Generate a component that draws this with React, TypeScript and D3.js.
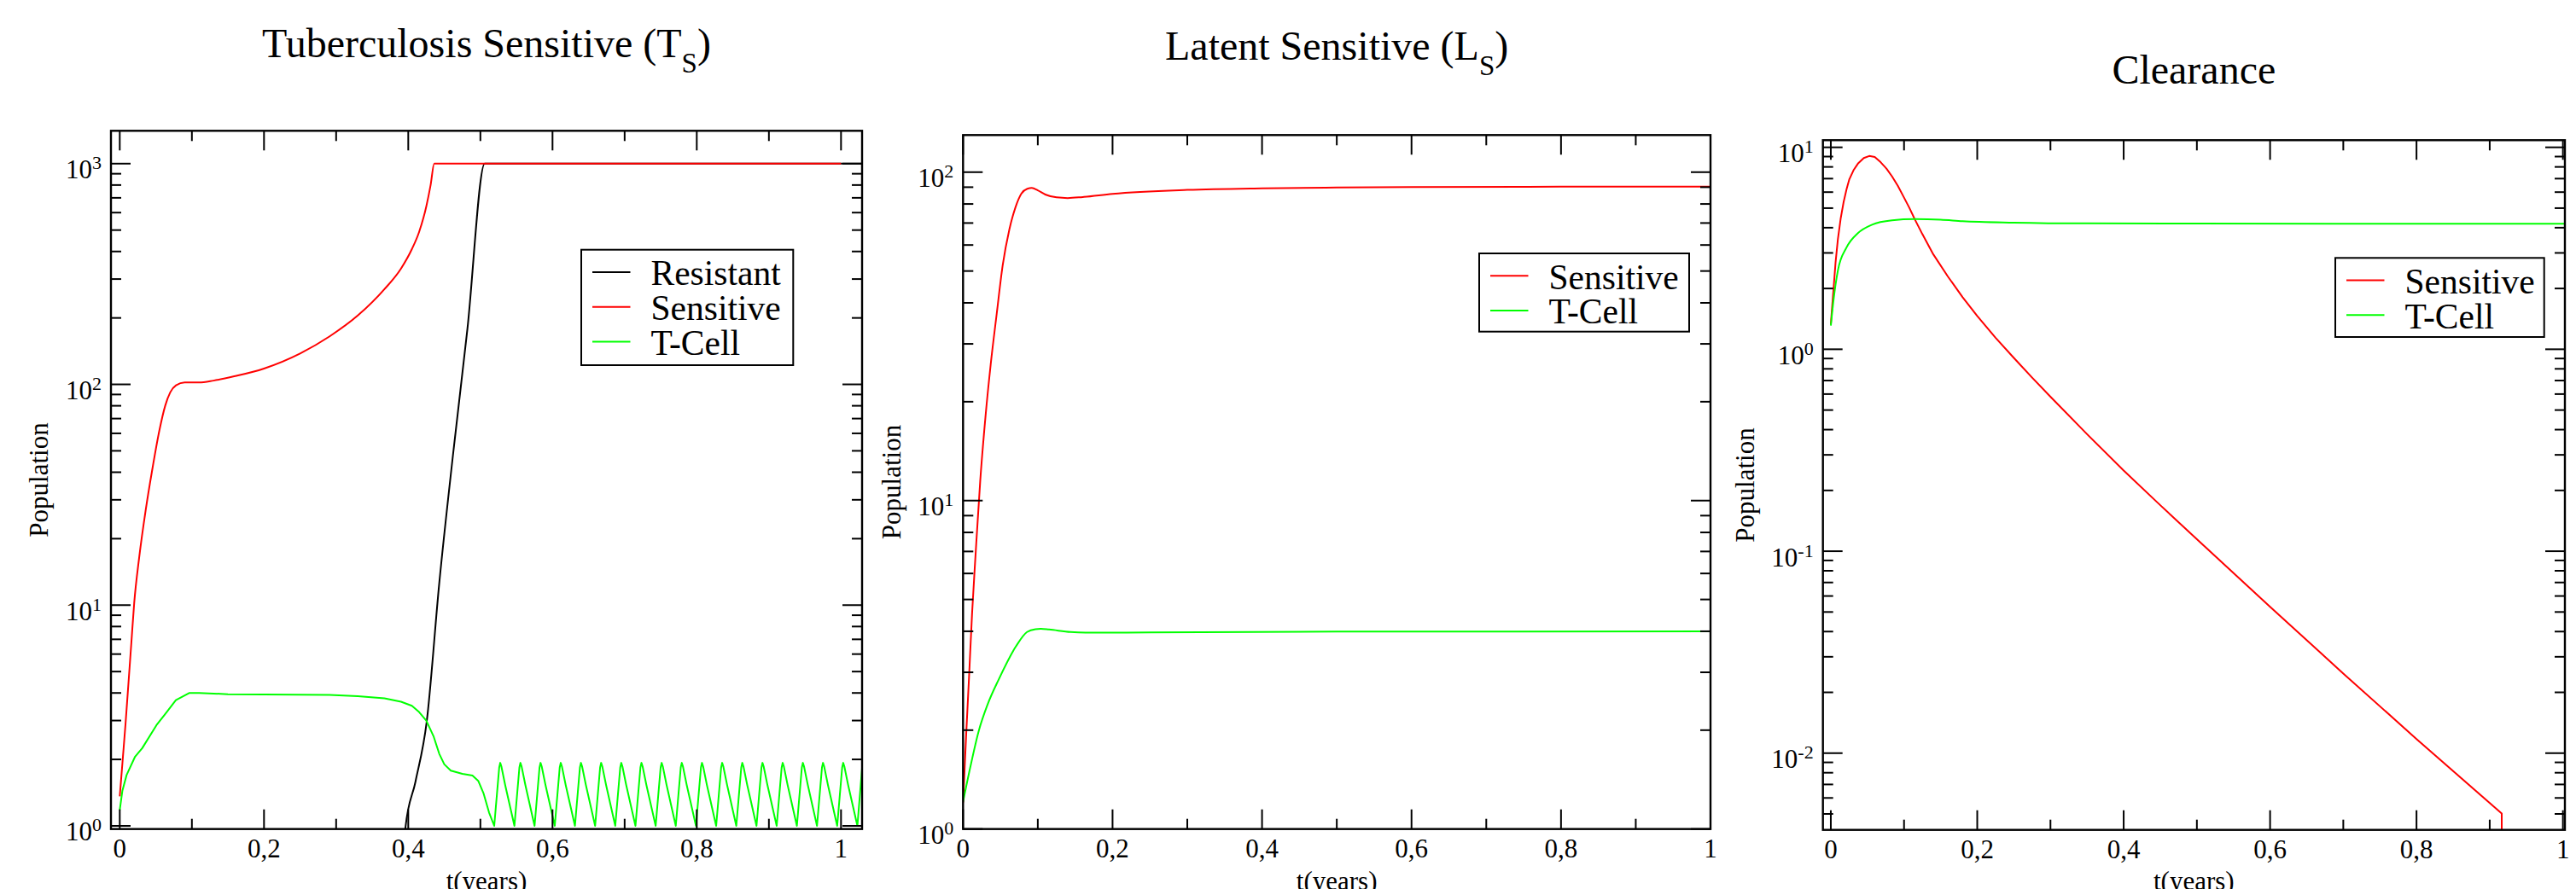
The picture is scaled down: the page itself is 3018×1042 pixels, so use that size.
import React from 'react';
import * as d3 from 'd3';

// ---------------- Shared axis values ----------------
const xMajorTicks = [0, 0.2, 0.4, 0.6, 0.8, 1];
const xMajorLabels = ['0', '0,2', '0,4', '0,6', '0,8', '1'];
const xMinorTicks = [0.1, 0.3, 0.5, 0.7, 0.9];
const xAxisTitle = 't(years)';
const yAxisTitle = 'Population';

// ---------------- Panel 1: Tuberculosis Sensitive ----------------
const tbResistantT = [0.3955, 0.396, 0.41, 0.4255, 0.443, 0.462, 0.482, 0.506, 0.52, 0.75, 1.0292];
const tbResistantV = [0.9, 0.977, 1.585, 2.95, 12.6, 47.9, 178, 1000, 1000, 1000, 1000];

const tbSensitiveT = [0, 0.004, 0.008, 0.012, 0.016, 0.02, 0.027, 0.036, 0.045, 0.055, 0.063, 0.07, 0.078, 0.09, 0.11, 0.13, 0.16, 0.2, 0.25, 0.291, 0.33, 0.367, 0.39, 0.405, 0.415, 0.425, 0.431, 0.436, 0.44, 0.6, 0.8, 1.0];
const tbSensitiveV = [1.36, 1.98, 2.9, 4.4, 6.7, 10.2, 16.5, 27, 41, 62, 80, 92, 99, 102, 102, 104, 109, 118, 138, 165, 205, 270, 335, 410, 490, 640, 800, 1000, 1000, 1000, 1000, 1000];

// T-cell before the oscillating phase
const tbTcellRiseT = [0, 0.0036, 0.0095, 0.0213, 0.0312, 0.0509, 0.0626, 0.0778, 0.0967, 0.11, 0.15, 0.2, 0.291, 0.33, 0.367, 0.39, 0.405, 0.415, 0.425, 0.435, 0.443, 0.45, 0.459, 0.475, 0.489, 0.497, 0.5045, 0.512, 0.5192];
const tbTcellRiseV = [1.18, 1.44, 1.70, 2.06, 2.25, 2.86, 3.2, 3.71, 4.0, 4.0, 3.95, 3.94, 3.92, 3.87, 3.78, 3.65, 3.5, 3.28, 3.0, 2.55, 2.12, 1.9, 1.78, 1.72, 1.69, 1.6, 1.4, 1.15, 1.0];
// T-cell oscillating phase (pre-peak, peak, post-peak, falling, trough) per cycle
const tbTcellOscT = [
  0.5261, 0.5275, 0.5291, 0.5344, 0.5472,
  0.5541, 0.5555, 0.5571, 0.5624, 0.5751,
  0.5820, 0.5834, 0.5850, 0.5903, 0.6031,
  0.6100, 0.6114, 0.6130, 0.6183, 0.6311,
  0.6380, 0.6394, 0.6410, 0.6463, 0.6591,
  0.6660, 0.6674, 0.6690, 0.6743, 0.6870,
  0.6939, 0.6953, 0.6969, 0.7022, 0.7150,
  0.7219, 0.7233, 0.7249, 0.7302, 0.7430,
  0.7499, 0.7513, 0.7529, 0.7582, 0.7709,
  0.7778, 0.7792, 0.7808, 0.7861, 0.7989,
  0.8058, 0.8072, 0.8088, 0.8141, 0.8269,
  0.8338, 0.8352, 0.8368, 0.8421, 0.8548,
  0.8617, 0.8631, 0.8647, 0.8700, 0.8828,
  0.8897, 0.8911, 0.8927, 0.8980, 0.9108,
  0.9177, 0.9191, 0.9207, 0.9260, 0.9388,
  0.9457, 0.9471, 0.9487, 0.9540, 0.9667,
  0.9736, 0.9750, 0.9766, 0.9819, 0.9947,
  1.0016, 1.0030, 1.0046, 1.0099, 1.0227,
  1.0292];
const tbTcellOscV = [
  1.84, 1.93, 1.86, 1.53, 1.0,
  1.84, 1.93, 1.86, 1.53, 1.0,
  1.84, 1.93, 1.86, 1.53, 1.0,
  1.84, 1.93, 1.86, 1.53, 1.0,
  1.84, 1.93, 1.86, 1.53, 1.0,
  1.84, 1.93, 1.86, 1.53, 1.0,
  1.84, 1.93, 1.86, 1.53, 1.0,
  1.84, 1.93, 1.86, 1.53, 1.0,
  1.84, 1.93, 1.86, 1.53, 1.0,
  1.84, 1.93, 1.86, 1.53, 1.0,
  1.84, 1.93, 1.86, 1.53, 1.0,
  1.84, 1.93, 1.86, 1.53, 1.0,
  1.84, 1.93, 1.86, 1.53, 1.0,
  1.84, 1.93, 1.86, 1.53, 1.0,
  1.84, 1.93, 1.86, 1.53, 1.0,
  1.84, 1.93, 1.86, 1.53, 1.0,
  1.84, 1.93, 1.86, 1.53, 1.0,
  1.84, 1.93, 1.86, 1.53, 1.0,
  1.83];

// ---------------- Panel 2: Latent Sensitive ----------------
const latSensitiveT = [0, 0.004, 0.008, 0.012, 0.017, 0.023, 0.03, 0.037, 0.045, 0.053, 0.062, 0.07, 0.078, 0.086, 0.092, 0.1, 0.11, 0.125, 0.14, 0.16, 0.2, 0.3, 0.4, 0.5, 0.6, 0.8, 1.0];
const latSensitiveV = [1.2, 1.9, 2.9, 4.5, 7, 11.5, 18, 26, 37, 52, 67, 78, 86, 89, 89.5, 88, 85.5, 83.8, 83.4, 84, 85.9, 88.3, 89.3, 89.8, 90.1, 90.3, 90.4];

const latTcellT = [0, 0.0096, 0.021, 0.033, 0.0476, 0.0708, 0.0856, 0.097, 0.104, 0.115, 0.144, 0.173, 0.25, 0.5, 1.0];
const latTcellV = [1.21, 1.54, 1.99, 2.4, 2.85, 3.6, 3.98, 4.06, 4.07, 4.05, 3.98, 3.96, 3.97, 3.99, 4.0];

// ---------------- Panel 3: Clearance ----------------
const clrSensitiveT = [0, 0.002, 0.0039, 0.0065, 0.0097, 0.0135, 0.0175, 0.0215, 0.0253, 0.031, 0.037, 0.045, 0.0525, 0.06, 0.068, 0.076, 0.0836, 0.0915, 0.0991, 0.107, 0.1146, 0.125, 0.14, 0.16, 0.18, 0.2, 0.225, 0.25, 0.275, 0.3, 0.35, 0.4, 0.45, 0.5, 0.6, 0.7, 0.8, 0.9164, 0.9165];
const clrSensitiveV = [1.33, 1.66, 2.03, 2.7, 3.52, 4.45, 5.36, 6.2, 6.95, 7.7, 8.3, 8.85, 9.06, 8.95, 8.44, 7.85, 7.18, 6.45, 5.72, 5.04, 4.41, 3.72, 2.95, 2.29, 1.81, 1.46, 1.14, 0.906, 0.724, 0.582, 0.38, 0.251, 0.169, 0.1146, 0.0531, 0.0248, 0.01175, 0.00503, 0.003];

const clrTcellT = [0, 0.0039, 0.0097, 0.0214, 0.037, 0.0563, 0.0836, 0.1146, 0.15, 0.18, 0.25, 0.35, 0.5, 0.75, 1.0027];
const clrTcellV = [1.31, 1.78, 2.46, 3.19, 3.76, 4.14, 4.35, 4.41, 4.38, 4.31, 4.24, 4.2, 4.19, 4.18, 4.18];

const RED = '#ff0000';
const GREEN = '#00ff00';
const BLACK = '#000000';
const FONT = '"Liberation Serif", "Times New Roman", serif';

type Series = { name: string; color: string; t: number[]; v: number[]; smooth: boolean };

const panels = [
  {
    id: 'p1', title: 'Tuberculosis Sensitive (T', sub: 'S', titleY: 66.5,
    left: 130, right: 1010, top: 153.3, bottom: 971.7,
    xDomain: [-0.0122, 1.0292], yDomain: [0.9676, 1408.6],
    popX: 56,
    legend: { x: 681, y: 292.7, w: 248.3, h: 135.3 },
    series: [
      { name: 'Resistant', color: BLACK, t: tbResistantT, v: tbResistantV, smooth: true },
      { name: 'Sensitive', color: RED, t: tbSensitiveT, v: tbSensitiveV, smooth: true },
      { name: 'T-Cell', color: GREEN, t: tbTcellRiseT.concat(tbTcellOscT), v: tbTcellRiseV.concat(tbTcellOscV), smooth: false },
    ] as Series[],
  },
  {
    id: 'p2', title: 'Latent Sensitive (L', sub: 'S', titleY: 70,
    left: 1128.3, right: 2004, top: 158.3, bottom: 971.7,
    xDomain: [0, 1], yDomain: [1, 129.7],
    popX: 1055,
    legend: { x: 1733, y: 297, w: 246, h: 91.7 },
    series: [
      { name: 'Sensitive', color: RED, t: latSensitiveT, v: latSensitiveV, smooth: true },
      { name: 'T-Cell', color: GREEN, t: latTcellT, v: latTcellV, smooth: true },
    ] as Series[],
  },
  {
    id: 'p3', title: 'Clearance', sub: '', titleY: 98.3,
    left: 2135.7, right: 3005, top: 164.3, bottom: 972.7,
    xDomain: [-0.0108, 1.0027], yDomain: [0.004169, 10.85],
    popX: 2055,
    legend: { x: 2736, y: 302.3, w: 244.7, h: 92.7 },
    series: [
      { name: 'Sensitive', color: RED, t: clrSensitiveT, v: clrSensitiveV, smooth: false },
      { name: 'T-Cell', color: GREEN, t: clrTcellT, v: clrTcellV, smooth: true },
    ] as Series[],
  },
];

function Panel({ cfg }: { cfg: typeof panels[number] }) {
  const x = d3.scaleLinear().domain(cfg.xDomain).range([cfg.left, cfg.right]);
  const y = d3.scaleLog().domain(cfg.yDomain).range([cfg.bottom, cfg.top]);
  const yTicks = y.ticks();
  const isMajor = (v: number) => Math.abs(Math.log10(v) - Math.round(Math.log10(v))) < 1e-6;
  const mkLine = (smooth: boolean) =>
    d3.line<[number, number]>().x(d => x(d[0])).y(d => y(d[1])).curve(smooth ? d3.curveMonotoneX : d3.curveLinear);
  const MAJ = 23, MIN = 12;
  const cx = (cfg.left + cfg.right) / 2;
  const cy = (cfg.top + cfg.bottom) / 2;
  const clipId = 'clip-' + cfg.id;
  const lg = cfg.legend;
  return (
    <g>
      <defs>
        <clipPath id={clipId}>
          <rect x={cfg.left} y={cfg.top} width={cfg.right - cfg.left} height={cfg.bottom - cfg.top} />
        </clipPath>
      </defs>
      {/* title */}
      <text x={cx} y={cfg.titleY} textAnchor="middle" fontSize={48} fontFamily={FONT}>
        {cfg.title}
        {cfg.sub ? <tspan fontSize={33} dy={18}>{cfg.sub}</tspan> : null}
        {cfg.sub ? <tspan fontSize={48} dy={-18}>)</tspan> : null}
      </text>
      {/* data */}
      <g clipPath={`url(#${clipId})`}>
        {cfg.series.map(s => (
          <path key={s.name} d={mkLine(s.smooth)(s.t.map((t, i) => [t, s.v[i]] as [number, number])) || ''}
            fill="none" stroke={s.color} strokeWidth={2} strokeLinejoin="round" />
        ))}
      </g>
      {/* y ticks */}
      {yTicks.map((v, i) => {
        const L = isMajor(v) ? MAJ : MIN;
        const yy = y(v);
        return (
          <g key={'y' + i}>
            <line x1={cfg.left} x2={cfg.left + L} y1={yy} y2={yy} stroke="#000" strokeWidth={2} />
            <line x1={cfg.right} x2={cfg.right - L} y1={yy} y2={yy} stroke="#000" strokeWidth={2} />
          </g>
        );
      })}
      {yTicks.filter(isMajor).map((v, i) => (
        <text key={'yl' + i} x={cfg.left - 11} y={y(v) + 17.5} textAnchor="end" fontSize={31} fontFamily={FONT}>
          10<tspan fontSize={22} dy={-11}>{String(Math.round(Math.log10(v)))}</tspan>
        </text>
      ))}
      {/* x ticks */}
      {xMajorTicks.map((t, i) => (
        <g key={'xM' + i}>
          <line x1={x(t)} x2={x(t)} y1={cfg.bottom} y2={cfg.bottom - MAJ} stroke="#000" strokeWidth={2} />
          <line x1={x(t)} x2={x(t)} y1={cfg.top} y2={cfg.top + MAJ} stroke="#000" strokeWidth={2} />
          <text x={x(t)} y={cfg.bottom + 33} textAnchor="middle" fontSize={31} fontFamily={FONT}>{xMajorLabels[i]}</text>
        </g>
      ))}
      {xMinorTicks.map((t, i) => (
        <g key={'xm' + i}>
          <line x1={x(t)} x2={x(t)} y1={cfg.bottom} y2={cfg.bottom - MIN} stroke="#000" strokeWidth={2} />
          <line x1={x(t)} x2={x(t)} y1={cfg.top} y2={cfg.top + MIN} stroke="#000" strokeWidth={2} />
        </g>
      ))}
      {/* frame */}
      <rect x={cfg.left} y={cfg.top} width={cfg.right - cfg.left} height={cfg.bottom - cfg.top}
        fill="none" stroke="#000" strokeWidth={2.4} />
      {/* axis titles */}
      <text x={cx} y={1043} textAnchor="middle" fontSize={31} fontFamily={FONT}>{xAxisTitle}</text>
      <text transform={`translate(${cfg.popX},${cy}) rotate(-90)`} textAnchor="middle" fontSize={31} fontFamily={FONT}>{yAxisTitle}</text>
      {/* legend */}
      <rect x={lg.x} y={lg.y} width={lg.w} height={lg.h} fill="#fff" stroke="#000" strokeWidth={2} />
      {cfg.series.map((s, i) => {
        const ly = lg.y + 26.3 + i * 40.7;
        return (
          <g key={'lg' + i}>
            <line x1={lg.x + 13} x2={lg.x + 57.5} y1={ly} y2={ly} stroke={s.color} strokeWidth={2} />
            <text x={lg.x + 81.5} y={ly + 15.2} fontSize={41.5} fontFamily={FONT}>{s.name}</text>
          </g>
        );
      })}
    </g>
  );
}

export default function App() {
  return (
    <svg width={3018} height={1042} viewBox="0 0 3018 1042"
      style={{ position: 'absolute', left: 0, top: 0, background: '#fff', overflow: 'hidden' }}>
      <rect x={0} y={0} width={3018} height={1042} fill="#fff" />
      {panels.map(p => <Panel key={p.id} cfg={p} />)}
    </svg>
  );
}
